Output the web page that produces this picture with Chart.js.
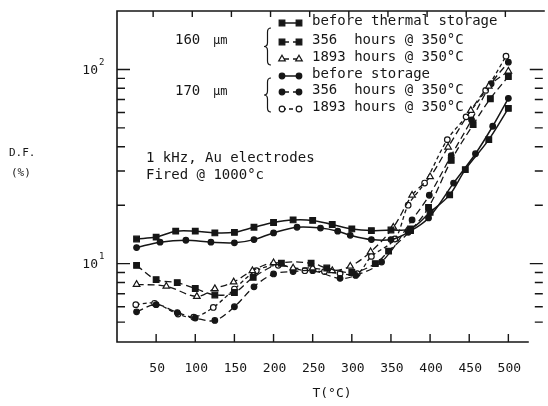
<!DOCTYPE html>
<html>
<head>
<meta charset="utf-8">
<script src="https://cdn.jsdelivr.net/npm/chart.js@4.4.1/dist/chart.umd.min.js"></script>
<style>
html, body { margin: 0; padding: 0; background: #fff; }
#wrap { width: 548px; height: 406px; position: relative; }
</style>
</head>
<body>
<div id="wrap"><canvas id="chart"></canvas></div>
<script>
// T (°C) and D.F. (%), one pair per curve
const t160Before = [25, 50, 75, 100, 125, 150, 175, 200, 225, 250, 275, 300, 325, 350, 375, 400, 425, 445, 475, 500];
const df160Before = [13.4, 13.7, 14.7, 14.7, 14.4, 14.5, 15.4, 16.3, 16.8, 16.7, 15.9, 15.1, 14.8, 14.9, 15.1, 18.4, 22.6, 30.5, 43.5, 63];

const t160h356 = [25, 50, 77, 100, 125, 150, 174, 210, 248, 268, 300, 330, 347, 375, 398, 427, 455, 477, 500];
const df160h356 = [9.8, 8.27, 7.98, 7.45, 6.9, 7.1, 8.5, 10.05, 10.05, 9.5, 9.0, 10.0, 11.6, 14.8, 19.5, 34, 52, 70.7, 92];

const t160h1893 = [25, 63, 102, 125, 149, 173, 200, 225, 250, 275, 298, 324, 353, 377, 400, 423, 452, 475, 500];
const df160h1893 = [7.82, 7.65, 6.78, 7.43, 8.05, 9.2, 10.1, 9.5, 9.5, 9.2, 9.7, 11.5, 15.4, 22.5, 28, 39.8, 61.5, 82, 98];

const t170Before = [25, 55, 88, 120, 150, 175, 200, 230, 260, 282, 298, 325, 350, 372, 398, 430, 458, 480, 500];
const df170Before = [12.1, 12.9, 13.2, 12.9, 12.8, 13.3, 14.4, 15.4, 15.25, 14.7, 14.0, 13.3, 13.3, 14.5, 17.2, 26, 36.8, 51, 71];

const t170h356 = [25, 50, 77, 100, 125, 150, 175, 200, 225, 250, 285, 305, 338, 377, 399, 427, 453, 478, 500];
const df170h356 = [5.65, 6.15, 5.6, 5.25, 5.1, 6.0, 7.6, 8.85, 9.1, 9.2, 8.4, 8.7, 10.2, 16.8, 22.5, 36, 55, 84.5, 109];

const t170h1893 = [24, 48, 78, 98, 123, 150, 178, 206, 240, 265, 285, 307, 325, 355, 372, 393, 422, 446, 471, 497];
const df170h1893 = [6.15, 6.25, 5.5, 5.3, 5.95, 7.4, 9.2, 9.8, 9.2, 9.1, 8.9, 8.87, 10.9, 13.4, 20, 26, 43.5, 57, 78, 117];

const xTicks = [50, 100, 150, 200, 250, 300, 350, 400, 450, 500];
const yMajor = [10, 100];
const yMinor = [5, 6, 7, 8, 9, 20, 30, 40, 50, 60, 70, 80, 90];

const legendLabels = ['before thermal storage', '356  hours @ 350°C', '1893 hours @ 350°C',
                      'before storage', '356  hours @ 350°C', '1893 hours @ 350°C'];
const groupLabels = ['160', '170'];

const ink = '#161616';
const mono = '"DejaVu Sans Mono", monospace';

const pts = (t, v) => t.map((x, i) => ({ x, y: v[i] }));

function series(t, v, style, radius, open, dash) {
    return {
        data: pts(t, v),
        borderColor: ink,
        borderWidth: dash.length ? 1.3 : 1.5,
        borderDash: dash,
        pointStyle: style,
        pointRadius: radius,
        pointBorderWidth: 1.2,
        pointBorderColor: ink,
        pointBackgroundColor: open ? '#fff' : ink,
        tension: 0.35,
        fill: false
    };
}

const datasets = [
    series(t160Before, df160Before, 'rect', 4, false, []),
    series(t160h356, df160h356, 'rect', 4, false, [7, 4]),
    series(t160h1893, df160h1893, 'triangle', 3.8, true, [7, 4]),
    series(t170Before, df170Before, 'circle', 2.8, false, []),
    series(t170h356, df170h356, 'circle', 2.8, false, [7, 4]),
    series(t170h1893, df170h1893, 'circle', 2.8, true, [4, 3])
];

function brace(ctx, x, y1, y2, w) {
    const m = (y1 + y2) / 2, h = w / 2;
    ctx.beginPath();
    ctx.moveTo(x + w, y1);
    ctx.quadraticCurveTo(x + h, y1, x + h, y1 + 4);
    ctx.lineTo(x + h, m - 4);
    ctx.quadraticCurveTo(x + h, m, x, m);
    ctx.quadraticCurveTo(x + h, m, x + h, m + 4);
    ctx.lineTo(x + h, y2 - 4);
    ctx.quadraticCurveTo(x + h, y2, x + w, y2);
    ctx.stroke();
}

const frame = {
    id: 'frame',
    afterDraw(chart) {
        const { ctx, chartArea: a, scales: { x, y } } = chart;
        ctx.save();
        ctx.strokeStyle = ink;
        ctx.fillStyle = ink;
        ctx.lineWidth = 1.6;
        ctx.setLineDash([]);
        ctx.beginPath();
        ctx.moveTo(a.right + 2, a.top);
        ctx.lineTo(a.left, a.top);
        ctx.lineTo(a.left, a.bottom);
        ctx.lineTo(a.right - 14, a.bottom);
        ctx.stroke();

        // ticks point inward on all sides
        ctx.lineWidth = 1.4;
        ctx.beginPath();
        xTicks.forEach(v => {
            const px = x.getPixelForValue(v);
            ctx.moveTo(px, a.bottom); ctx.lineTo(px, a.bottom - 8);
            ctx.moveTo(px - 3, a.top); ctx.lineTo(px - 3, a.top + 6);
        });
        yMajor.forEach(v => {
            const py = y.getPixelForValue(v);
            ctx.moveTo(a.left, py); ctx.lineTo(a.left + 13, py);
            ctx.moveTo(a.right, py); ctx.lineTo(a.right - 13, py);
        });
        yMinor.forEach(v => {
            const py = y.getPixelForValue(v);
            ctx.moveTo(a.left, py); ctx.lineTo(a.left + 8, py);
            ctx.moveTo(a.right, py); ctx.lineTo(a.right - 8, py);
        });
        ctx.stroke();

        ctx.font = '13px ' + mono;
        ctx.textAlign = 'center';
        ctx.textBaseline = 'middle';
        xTicks.forEach(v => ctx.fillText(String(v), x.getPixelForValue(v) + 1, 369));
        ctx.fillText('T(°C)', 332, 394);

        yMajor.forEach(v => {
            const py = y.getPixelForValue(v);
            ctx.font = '13px ' + mono;
            ctx.textAlign = 'right';
            ctx.fillText('10', 98, py + 1);
            ctx.font = '9px ' + mono;
            ctx.textAlign = 'left';
            ctx.fillText(String(Math.log10(v)), 99, py - 7);
        });

        ctx.font = '11px ' + mono;
        ctx.textAlign = 'left';
        ctx.fillText('D.F.', 9, 153);
        ctx.fillText('(%)', 11, 173);

        ctx.font = '14px ' + mono;
        ctx.fillText('1 kHz, Au electrodes', 146, 158);
        ctx.fillText('Fired @ 1000°c', 146, 175);

        // legend
        const rowY = [21, 40, 57, 74, 90, 107];
        chart.data.datasets.forEach((ds, i) => {
            const sy = rowY[i] + 2;
            ctx.lineWidth = ds.borderWidth;
            ctx.setLineDash(ds.borderDash);
            ctx.beginPath();
            ctx.moveTo(282, sy); ctx.lineTo(299, sy);
            ctx.stroke();
            ctx.setLineDash([]);
            const opts = { pointStyle: ds.pointStyle, radius: ds.pointRadius, borderWidth: ds.pointBorderWidth, rotation: 0 };
            ctx.fillStyle = ds.pointBackgroundColor;
            ctx.strokeStyle = ink;
            ctx.lineWidth = ds.pointBorderWidth;
            Chart.helpers.drawPoint(ctx, opts, 282, sy);
            Chart.helpers.drawPoint(ctx, opts, 299, sy);
            ctx.fillStyle = ink;
            ctx.font = '14px ' + mono;
            ctx.fillText(legendLabels[i], 312, rowY[i]);
        });
        ctx.lineWidth = 1.2;
        brace(ctx, 264, 28, 65, 7);
        brace(ctx, 264, 78, 112, 7);
        groupLabels.forEach((g, i) => {
            const gy = [40, 91][i];
            ctx.font = '14px ' + mono;
            ctx.fillText(g, 175, gy);
            ctx.font = '12px ' + mono;
            ctx.fillText('µm', 213, gy + 1);
        });
        ctx.restore();
    }
};

new Chart(document.getElementById('chart'), {
    type: 'line',
    data: { datasets },
    options: {
        responsive: true,
        maintainAspectRatio: false,
        animation: false,
        layout: { padding: { left: 117, top: 11, right: 0, bottom: 64 } },
        plugins: { legend: { display: false }, tooltip: { enabled: false } },
        scales: {
            x: { type: 'linear', min: 0, max: 544, display: false },
            y: { type: 'logarithmic', min: 3.95, max: 200, display: false }
        }
    },
    plugins: [frame]
});
</script>
</body>
</html>
